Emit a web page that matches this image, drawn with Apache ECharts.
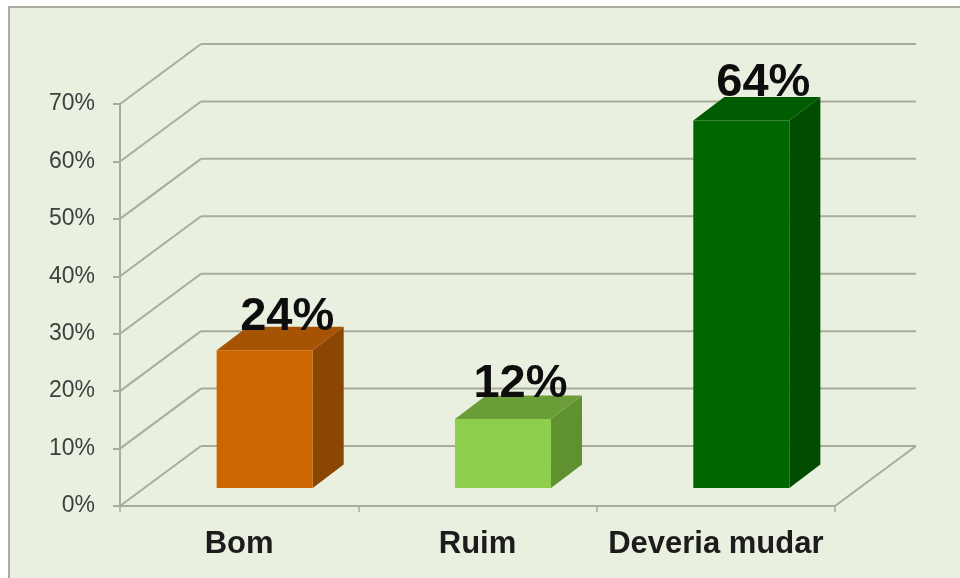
<!DOCTYPE html>
<html>
<head>
<meta charset="utf-8">
<style>html,body{margin:0;padding:0;background:#fff}#chart{width:960px;height:578px}</style>
<script src="https://cdn.jsdelivr.net/npm/echarts@6/dist/echarts.min.js"></script>
</head>
<body>
<div id="chart"></div>
<script>
// Survey answers, in percent
const categories = ['Bom', 'Ruim', 'Deveria mudar'];
const values = [24, 12, 64];
const yTicks = [0, 10, 20, 30, 40, 50, 60, 70];

// Face colours per bar
const frontColors = ['#cc6600', '#8dce4f', '#006600'];
const topColors = ['#a65403', '#6b9e39', '#005c00'];
const sideColors = ['#8a4602', '#5f9130', '#004c00'];

// Oblique projection: how far the back wall sits from the axes,
// where a bar stands on the floor and how deep it is
const wall = { dx: 81, dy: -60 };
const barFloor = { dx: 25.5, dy: -18 };
const barDepth = { dx: 31, dy: -23.5 };
// Shift of each value label from its bar's front face
const labelShiftX = [22.5, 17.5, 22];
const labelShiftY = [-10, -12, -14];
const gridColor = '#a8ac9b';

const chart = echarts.init(document.getElementById('chart'), null, { renderer: 'canvas' });

function renderGrid(params, api) {
  const v = api.value(1);
  const cs = params.coordSys;
  const y = api.coord([0, v])[1];
  const x0 = cs.x, x1 = cs.x + cs.width;
  const stroke = { stroke: gridColor, lineWidth: 2, fill: null };
  const children = [
    { type: 'line', shape: { x1: x0, y1: y, x2: x0 + wall.dx, y2: y + wall.dy }, style: stroke },
    { type: 'line', shape: { x1: x0 + wall.dx, y1: y + wall.dy, x2: x1 + wall.dx, y2: y + wall.dy }, style: stroke }
  ];
  if (v === 0) {
    children.push({ type: 'line', shape: { x1: x1, y1: y, x2: x1 + wall.dx, y2: y + wall.dy }, style: stroke });
  }
  return { type: 'group', children };
}

function renderBar(params, api) {
  const i = api.value(0);
  const top = api.coord([i, api.value(1)]);
  const base = api.coord([i, 0]);
  const w = api.size([1, 0])[0] * 0.403;
  const l = top[0] - w / 2 + barFloor.dx, r = l + w;
  const yt = top[1] + barFloor.dy, yb = base[1] + barFloor.dy;
  const d = barDepth;
  return {
    type: 'group',
    children: [
      { type: 'polygon', shape: { points: [[r, yt], [r + d.dx, yt + d.dy], [r + d.dx, yb + d.dy], [r, yb]] }, style: { fill: sideColors[i] } },
      { type: 'polygon', shape: { points: [[l, yt], [l + d.dx, yt + d.dy], [r + d.dx, yt + d.dy], [r, yt]] }, style: { fill: topColors[i] } },
      { type: 'rect', shape: { x: l, y: yt, width: w, height: yb - yt }, style: { fill: frontColors[i] } },
      {
        type: 'text',
        style: {
          x: l + w / 2 + labelShiftX[i], y: yt + labelShiftY[i],
          text: api.value(1) + '%',
          align: 'center', verticalAlign: 'bottom',
          font: 'bold 47px "Liberation Sans", Arial, sans-serif',
          fill: '#0d0d0d'
        },
        z2: 10
      }
    ]
  };
}

chart.setOption({
  animation: false,
  backgroundColor: '#ffffff',
  graphic: [{
    type: 'rect', z: -10, silent: true,
    shape: { x: 9, y: 7, width: 960, height: 580 },
    style: { fill: '#eaf0e0', stroke: '#8f9585', lineWidth: 1.5 }
  }],
  grid: { left: 120, right: 125, top: 104, bottom: 72 },
  xAxis: {
    type: 'category',
    data: categories,
    axisLine: { lineStyle: { color: gridColor, width: 2 } },
    axisTick: { show: true, length: 6, lineStyle: { color: gridColor, width: 1.5 } },
    axisLabel: { interval: 0, color: '#1c1c1c', fontFamily: '"Liberation Sans", Arial, sans-serif', fontWeight: 'bold', fontSize: 31, margin: 23 }
  },
  yAxis: {
    type: 'value', min: 0, max: 70, interval: 10,
    axisLine: { show: true, lineStyle: { color: gridColor, width: 2 } },
    axisTick: { show: true, length: 7, lineStyle: { color: gridColor, width: 2 } },
    splitLine: { show: false },
    axisLabel: { formatter: '{value}%', color: '#3f3f3f', fontFamily: '"Liberation Sans", Arial, sans-serif', fontSize: 23, margin: 25, padding: [6, 0, 0, 0] }
  },
  series: [
    { type: 'custom', renderItem: renderGrid, clip: false, z: 1, encode: { x: 0, y: 1 }, data: yTicks.map(t => [0, t]) },
    { type: 'custom', renderItem: renderBar, clip: false, z: 2, encode: { x: 0, y: 1 }, data: values.map((v, i) => [i, v]) }
  ]
});
</script>
</body>
</html>
